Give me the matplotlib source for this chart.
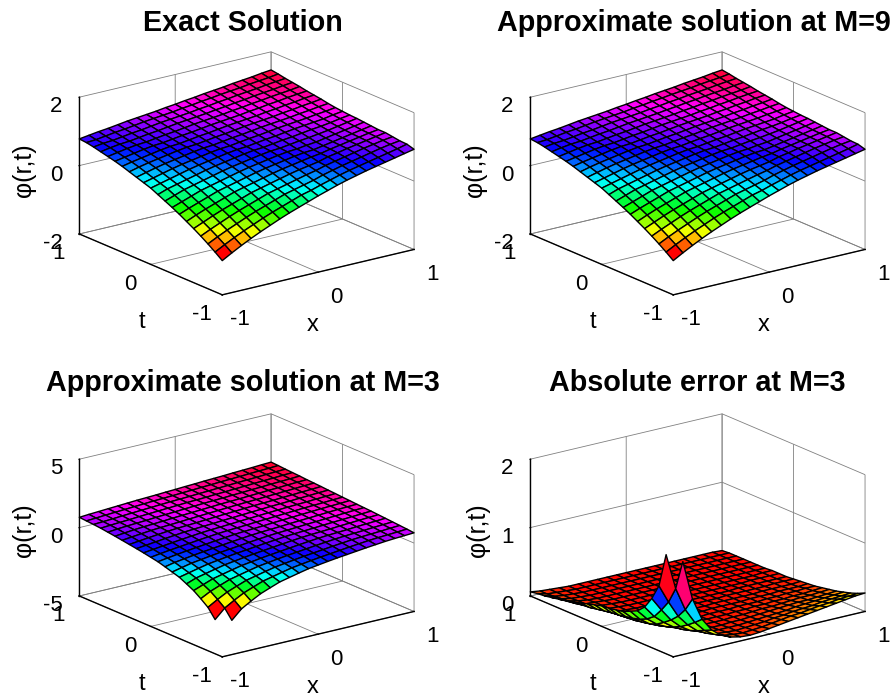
import numpy as np
import matplotlib
matplotlib.use("Agg")
import matplotlib.pyplot as plt
from matplotlib import cm
from matplotlib.colors import Normalize

x_vals = [-1.0, -0.9, -0.8, -0.7, -0.6, -0.5, -0.4, -0.3, -0.2, -0.1, 0.0, 0.1, 0.2, 0.3, 0.4, 0.5, 0.6, 0.7, 0.8, 0.9, 1.0]
t_vals = [-1.0, -0.9, -0.8, -0.7, -0.6, -0.5, -0.4, -0.3, -0.2, -0.1, 0.0, 0.1, 0.2, 0.3, 0.4, 0.5, 0.6, 0.7, 0.8, 0.9, 1.0]

# values, one row per t
exact = [
 [-1.00,-0.84,-0.69,-0.55,-0.42,-0.30,-0.18,-0.07,0.03,0.13,0.23,0.32,0.41,0.49,0.56,0.63,0.69,0.75,0.81,0.87,0.93],
 [-0.84,-0.69,-0.55,-0.42,-0.30,-0.18,-0.07,0.03,0.13,0.23,0.30,0.39,0.47,0.55,0.62,0.68,0.74,0.80,0.86,0.92,0.99],
 [-0.69,-0.55,-0.42,-0.30,-0.18,-0.07,0.03,0.13,0.23,0.30,0.37,0.44,0.53,0.60,0.67,0.73,0.79,0.85,0.91,0.96,1.00],
 [-0.55,-0.42,-0.30,-0.18,-0.07,0.03,0.13,0.23,0.30,0.37,0.44,0.51,0.57,0.65,0.71,0.77,0.83,0.89,0.94,0.99,1.03],
 [-0.42,-0.30,-0.18,-0.07,0.03,0.13,0.23,0.30,0.37,0.44,0.51,0.57,0.62,0.67,0.75,0.80,0.86,0.91,0.96,1.01,1.06],
 [-0.30,-0.18,-0.07,0.03,0.13,0.23,0.30,0.37,0.44,0.51,0.57,0.62,0.67,0.72,0.76,0.82,0.87,0.92,0.97,1.02,1.06],
 [-0.18,-0.07,0.03,0.13,0.23,0.30,0.37,0.44,0.51,0.57,0.62,0.67,0.72,0.76,0.78,0.83,0.88,0.93,0.98,1.03,1.08],
 [-0.07,0.03,0.13,0.23,0.30,0.37,0.44,0.51,0.57,0.62,0.67,0.72,0.76,0.78,0.82,0.85,0.90,0.95,1.00,1.05,1.10],
 [0.03,0.13,0.23,0.30,0.37,0.44,0.51,0.57,0.62,0.67,0.72,0.76,0.78,0.82,0.86,0.89,0.93,0.97,1.02,1.07,1.12],
 [0.13,0.23,0.30,0.37,0.44,0.51,0.57,0.62,0.67,0.72,0.76,0.78,0.82,0.86,0.89,0.93,0.97,1.00,1.04,1.09,1.13],
 [0.23,0.30,0.37,0.44,0.51,0.57,0.62,0.67,0.72,0.76,0.78,0.82,0.86,0.89,0.93,0.97,1.00,1.03,1.06,1.11,1.15],
 [0.30,0.37,0.44,0.51,0.57,0.62,0.67,0.72,0.76,0.78,0.82,0.86,0.89,0.93,0.97,1.00,1.03,1.06,1.10,1.13,1.17],
 [0.37,0.44,0.51,0.57,0.62,0.67,0.72,0.76,0.78,0.82,0.86,0.89,0.93,0.97,1.00,1.03,1.06,1.10,1.13,1.17,1.20],
 [0.44,0.51,0.57,0.62,0.67,0.72,0.76,0.78,0.82,0.86,0.89,0.93,0.97,1.00,1.03,1.06,1.10,1.13,1.17,1.20,1.24],
 [0.51,0.57,0.62,0.67,0.72,0.76,0.78,0.82,0.86,0.89,0.93,0.97,1.00,1.03,1.06,1.10,1.13,1.17,1.20,1.24,1.27],
 [0.57,0.62,0.67,0.72,0.76,0.78,0.82,0.86,0.89,0.93,0.97,1.00,1.03,1.06,1.10,1.13,1.17,1.20,1.24,1.27,1.30],
 [0.62,0.67,0.72,0.76,0.78,0.82,0.86,0.89,0.93,0.97,1.00,1.03,1.06,1.10,1.13,1.17,1.20,1.24,1.27,1.30,1.34],
 [0.67,0.72,0.76,0.78,0.82,0.86,0.89,0.93,0.97,1.00,1.03,1.06,1.10,1.13,1.17,1.20,1.24,1.27,1.30,1.34,1.37],
 [0.72,0.76,0.78,0.82,0.86,0.89,0.93,0.97,1.00,1.03,1.06,1.10,1.13,1.17,1.20,1.24,1.27,1.30,1.34,1.37,1.40],
 [0.76,0.78,0.82,0.86,0.89,0.93,0.97,1.00,1.03,1.06,1.10,1.13,1.17,1.20,1.24,1.27,1.30,1.34,1.37,1.40,1.44],
 [0.78,0.82,0.86,0.89,0.93,0.97,1.00,1.03,1.06,1.10,1.13,1.17,1.20,1.24,1.27,1.30,1.34,1.37,1.40,1.44,1.47],
]

approx_m3 = [
 [-1.50,-2.50,-1.83,-1.42,-1.05,-0.78,-0.52,-0.36,-0.20,-0.05,0.05,0.15,0.24,0.32,0.40,0.48,0.55,0.62,0.67,0.71,0.75],
 [-2.50,-1.83,-1.42,-1.05,-0.78,-0.52,-0.36,-0.20,-0.05,0.05,0.15,0.24,0.32,0.40,0.48,0.55,0.62,0.67,0.71,0.75,0.80],
 [-1.83,-1.42,-1.05,-0.78,-0.52,-0.36,-0.20,-0.05,0.05,0.15,0.24,0.32,0.40,0.48,0.55,0.62,0.67,0.71,0.75,0.80,0.84],
 [-1.42,-1.05,-0.78,-0.52,-0.36,-0.20,-0.05,0.05,0.15,0.24,0.32,0.40,0.48,0.55,0.62,0.67,0.71,0.75,0.80,0.84,0.88],
 [-1.05,-0.78,-0.52,-0.36,-0.20,-0.05,0.05,0.15,0.24,0.32,0.40,0.48,0.55,0.62,0.67,0.71,0.75,0.80,0.84,0.88,0.92],
 [-0.78,-0.52,-0.36,-0.20,-0.05,0.05,0.15,0.24,0.32,0.40,0.48,0.55,0.62,0.67,0.71,0.75,0.80,0.84,0.88,0.92,0.96],
 [-0.52,-0.36,-0.20,-0.05,0.05,0.15,0.24,0.32,0.40,0.48,0.55,0.62,0.67,0.71,0.75,0.80,0.84,0.88,0.92,0.96,1.00],
 [-0.36,-0.20,-0.05,0.05,0.15,0.24,0.32,0.40,0.48,0.55,0.62,0.67,0.71,0.75,0.80,0.84,0.88,0.92,0.96,1.00,1.03],
 [-0.20,-0.05,0.05,0.15,0.24,0.32,0.40,0.48,0.55,0.62,0.67,0.71,0.75,0.80,0.84,0.88,0.92,0.96,1.00,1.03,1.06],
 [-0.05,0.05,0.15,0.24,0.32,0.40,0.48,0.55,0.62,0.67,0.71,0.75,0.80,0.84,0.88,0.92,0.96,1.00,1.03,1.06,1.10],
 [0.05,0.15,0.24,0.32,0.40,0.48,0.55,0.62,0.67,0.71,0.75,0.80,0.84,0.88,0.92,0.96,1.00,1.03,1.06,1.10,1.13],
 [0.15,0.24,0.32,0.40,0.48,0.55,0.62,0.67,0.71,0.75,0.80,0.84,0.88,0.92,0.96,1.00,1.03,1.06,1.10,1.13,1.17],
 [0.24,0.32,0.40,0.48,0.55,0.62,0.67,0.71,0.75,0.80,0.84,0.88,0.92,0.96,1.00,1.03,1.06,1.10,1.13,1.17,1.20],
 [0.32,0.40,0.48,0.55,0.62,0.67,0.71,0.75,0.80,0.84,0.88,0.92,0.96,1.00,1.03,1.06,1.10,1.13,1.17,1.20,1.24],
 [0.40,0.48,0.55,0.62,0.67,0.71,0.75,0.80,0.84,0.88,0.92,0.96,1.00,1.03,1.06,1.10,1.13,1.17,1.20,1.24,1.27],
 [0.48,0.55,0.62,0.67,0.71,0.75,0.80,0.84,0.88,0.92,0.96,1.00,1.03,1.06,1.10,1.13,1.17,1.20,1.24,1.27,1.30],
 [0.55,0.62,0.67,0.71,0.75,0.80,0.84,0.88,0.92,0.96,1.00,1.03,1.06,1.10,1.13,1.17,1.20,1.24,1.27,1.30,1.34],
 [0.62,0.67,0.71,0.75,0.80,0.84,0.88,0.92,0.96,1.00,1.03,1.06,1.10,1.13,1.17,1.20,1.24,1.27,1.30,1.34,1.37],
 [0.67,0.71,0.75,0.80,0.84,0.88,0.92,0.96,1.00,1.03,1.06,1.10,1.13,1.17,1.20,1.24,1.27,1.30,1.34,1.37,1.40],
 [0.71,0.75,0.80,0.84,0.88,0.92,0.96,1.00,1.03,1.06,1.10,1.13,1.17,1.20,1.24,1.27,1.30,1.34,1.37,1.40,1.44],
 [0.75,0.80,0.84,0.88,0.92,0.96,1.00,1.03,1.06,1.10,1.13,1.17,1.20,1.24,1.27,1.30,1.34,1.37,1.40,1.44,1.47],
]

error_m3 = [
 [0.50,1.36,0.78,0.45,0.26,0.15,0.09,0.06,0.05,0.06,0.08,0.10,0.12,0.14,0.16,0.18,0.20,0.22,0.24,0.26,0.27],
 [1.45,0.92,0.58,0.36,0.21,0.12,0.07,0.05,0.04,0.05,0.06,0.08,0.10,0.12,0.13,0.15,0.17,0.18,0.20,0.21,0.22],
 [0.95,0.68,0.44,0.28,0.16,0.09,0.05,0.04,0.03,0.04,0.05,0.06,0.08,0.09,0.11,0.12,0.13,0.15,0.16,0.17,0.18],
 [0.72,0.52,0.34,0.21,0.12,0.07,0.04,0.03,0.03,0.03,0.04,0.05,0.06,0.07,0.08,0.10,0.11,0.12,0.13,0.14,0.15],
 [0.55,0.38,0.26,0.16,0.09,0.05,0.03,0.02,0.02,0.03,0.03,0.04,0.05,0.06,0.07,0.08,0.09,0.09,0.10,0.11,0.12],
 [0.45,0.30,0.19,0.12,0.07,0.04,0.02,0.02,0.02,0.02,0.03,0.03,0.04,0.05,0.05,0.06,0.07,0.08,0.08,0.09,0.10],
 [0.40,0.25,0.15,0.09,0.05,0.03,0.02,0.01,0.02,0.02,0.02,0.03,0.03,0.04,0.04,0.05,0.05,0.06,0.06,0.07,0.08],
 [0.35,0.22,0.13,0.07,0.04,0.02,0.01,0.01,0.01,0.02,0.02,0.02,0.03,0.03,0.03,0.04,0.04,0.05,0.05,0.06,0.06],
 [0.33,0.20,0.11,0.06,0.03,0.02,0.01,0.01,0.01,0.01,0.02,0.02,0.02,0.02,0.03,0.03,0.03,0.04,0.04,0.04,0.05],
 [0.31,0.18,0.10,0.05,0.03,0.02,0.01,0.01,0.01,0.01,0.01,0.02,0.02,0.02,0.02,0.02,0.03,0.03,0.03,0.03,0.04],
 [0.30,0.17,0.09,0.05,0.03,0.02,0.01,0.01,0.01,0.01,0.01,0.01,0.01,0.02,0.02,0.02,0.02,0.02,0.03,0.03,0.03],
 [0.27,0.15,0.08,0.04,0.02,0.01,0.01,0.01,0.01,0.01,0.01,0.01,0.01,0.01,0.01,0.02,0.02,0.02,0.02,0.02,0.02],
 [0.24,0.13,0.07,0.03,0.02,0.01,0.01,0.01,0.01,0.01,0.01,0.01,0.01,0.01,0.01,0.01,0.01,0.02,0.02,0.02,0.02],
 [0.21,0.11,0.06,0.03,0.02,0.01,0.01,0.01,0.01,0.01,0.01,0.01,0.01,0.01,0.01,0.01,0.01,0.01,0.01,0.02,0.02],
 [0.18,0.10,0.05,0.03,0.02,0.01,0.01,0.01,0.01,0.01,0.01,0.01,0.01,0.01,0.01,0.01,0.01,0.01,0.01,0.01,0.01],
 [0.15,0.08,0.04,0.03,0.02,0.01,0.01,0.01,0.01,0.01,0.01,0.01,0.01,0.01,0.01,0.01,0.01,0.01,0.01,0.01,0.01],
 [0.13,0.07,0.04,0.02,0.01,0.01,0.01,0.01,0.01,0.01,0.01,0.01,0.01,0.01,0.01,0.01,0.01,0.01,0.01,0.01,0.01],
 [0.11,0.06,0.03,0.02,0.01,0.01,0.01,0.01,0.01,0.01,0.01,0.01,0.01,0.01,0.01,0.01,0.01,0.01,0.01,0.01,0.01],
 [0.09,0.05,0.03,0.02,0.01,0.01,0.01,0.01,0.01,0.01,0.01,0.01,0.01,0.01,0.01,0.01,0.01,0.01,0.01,0.01,0.01],
 [0.08,0.04,0.03,0.02,0.01,0.01,0.01,0.01,0.01,0.01,0.01,0.01,0.01,0.01,0.01,0.01,0.01,0.01,0.01,0.01,0.01],
 [0.06,0.04,0.03,0.02,0.01,0.01,0.01,0.01,0.01,0.01,0.01,0.01,0.01,0.01,0.01,0.01,0.01,0.01,0.01,0.01,0.00],
]

titles = ["Exact Solution", "Approximate solution at M=9", "Approximate solution at M=3", "Absolute error at M=3"]
surfaces = [exact, exact, approx_m3, error_m3]
z_limits = [(-2, 2), (-2, 2), (-5, 5), (0, 2)]
z_ticks = [[-2, 0, 2], [-2, 0, 2], [-5, 0, 5], [0, 1, 2]]
xy_ticks = [-1, 0, 1]
# the first cell is missing from the two M=3 surfaces
skip_corner = [False, False, True, True]

# where things sit on the picture, in pixels
centres = [(241, 179), (692, 179), (241, 541), (692, 541)]
title_pos = [(243, 31), (694, 31), (243, 391), (697, 391)]
xlabel_pos = [(313, 331), (764, 331), (313, 693), (764, 693)]
tlabel_pos = [(142, 328), (593, 328), (142, 690), (593, 690)]
zlabel_pos = [(24, 170), (475, 170), (24, 530), (478, 530)]

W, H = 894, 697
SIZE = 420

plt.rcParams['font.family'] = ['Liberation Sans', 'DejaVu Sans']
plt.rcParams['axes.unicode_minus'] = False
plt.rcParams['grid.color'] = '#808080'
plt.rcParams['grid.linewidth'] = 0.6

fig = plt.figure(figsize=(W / 100, H / 100), dpi=100)
X, T = np.meshgrid(x_vals, t_vals)


def put_text(ax, pos, s, **kw):
    ax.text2D(pos[0] / W, 1 - pos[1] / H, s, transform=fig.transFigure, ha='center', **kw)


for i in range(4):
    cx, cy = centres[i]
    ax = fig.add_axes([(cx - SIZE / 2) / W, 1 - (cy + SIZE / 2) / H, SIZE / W, SIZE / H],
                      projection='3d', proj_type='ortho')
    ax.patch.set_alpha(0)
    Z = np.array(surfaces[i])
    norm = Normalize(Z.min(), Z.max())
    colors = cm.hsv(norm(Z))
    if skip_corner[i]:
        colors[0, 0, 3] = 0
    surf = ax.plot_surface(X, T, Z, rstride=1, cstride=1, facecolors=colors,
                           edgecolor='black', linewidth=1.0, shade=False)
    if skip_corner[i]:
        edges = np.zeros((400, 4))
        edges[1:, 3] = 1
        surf.set_edgecolors(edges)
    ax.view_init(elev=18.5, azim=-126.7)
    ax.set_box_aspect((1, 1, 0.603), zoom=0.85)
    ax.set_xlim(-1, 1, view_margin=0)
    ax.set_ylim(-1, 1, view_margin=0)
    ax.set_zlim(*z_limits[i], view_margin=0)
    ax.set_xticks(xy_ticks)
    ax.set_yticks(xy_ticks)
    ax.set_zticks(z_ticks[i])
    ax.tick_params(labelsize=16, colors='black')
    ax.tick_params(axis='x', pad=12)
    ax.tick_params(axis='y', pad=9)
    ax.tick_params(axis='z', pad=0)
    plt.setp(ax.get_zticklabels(), ha='right')
    plt.setp(ax.get_xticklabels(), va='center')
    plt.setp(ax.get_yticklabels(), va='center')
    for a in (ax.xaxis, ax.yaxis, ax.zaxis):
        a.set_pane_color((1, 1, 1, 0))
        a.pane.set_edgecolor('#808080')
        a.pane.set_linewidth(0.6)
        a.line.set_color('black')
        a.line.set_linewidth(1.0)
        a._axinfo['tick']['inward_factor'] = 0.02
        a._axinfo['tick']['outward_factor'] = 0.02
    ax.zaxis.set_ticks_position('upper')
    put_text(ax, title_pos[i], titles[i], va='baseline', fontsize=20.7, fontweight='bold')
    put_text(ax, xlabel_pos[i], 'x', va='baseline', fontsize=17)
    put_text(ax, tlabel_pos[i], 't', va='baseline', fontsize=17)
    put_text(ax, zlabel_pos[i], '\u03c6(r,t)', va='center', rotation=90, fontsize=18)

fig.savefig('out.png', dpi=100)
